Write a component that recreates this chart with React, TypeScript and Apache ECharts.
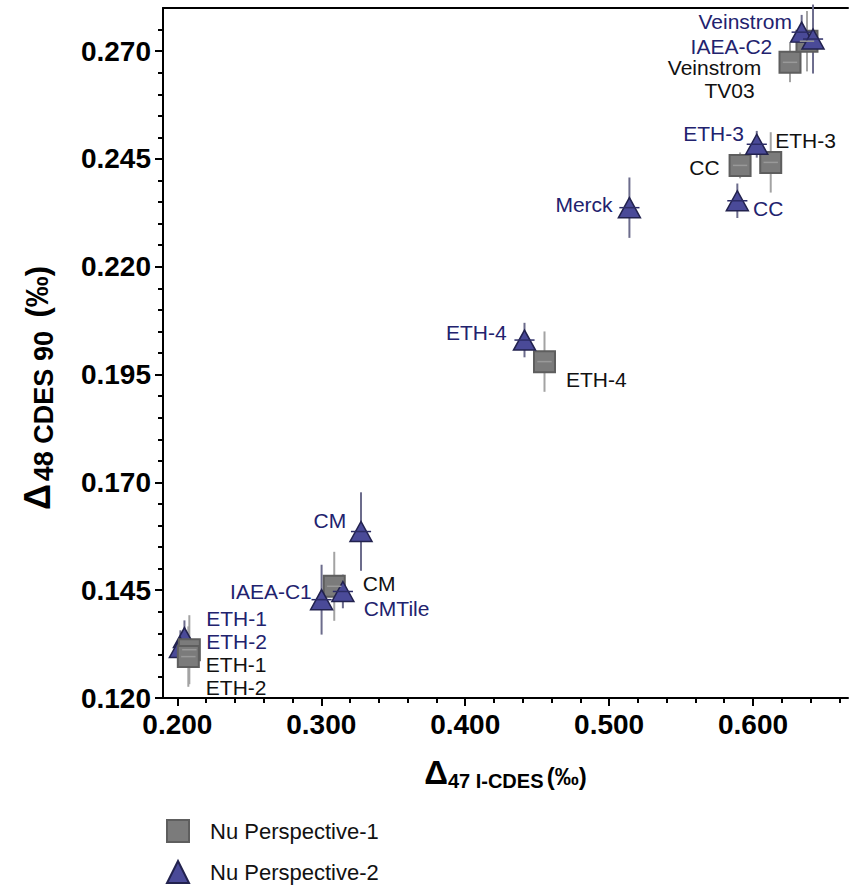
import React, { useEffect, useRef } from 'react';
import * as echarts from 'echarts';

// ---- Axis ticks ----
const xMajorTicks = [0.2, 0.3, 0.4, 0.5, 0.6];
const xMinorTicks = [0.22, 0.24, 0.26, 0.28, 0.32, 0.34, 0.36, 0.38, 0.42, 0.44, 0.46, 0.48, 0.52, 0.54, 0.56, 0.58, 0.62, 0.64, 0.66];
const yMajorTicks = [0.12, 0.145, 0.17, 0.195, 0.22, 0.245, 0.27];
const yMinorTicks = [0.125, 0.13, 0.135, 0.14, 0.15, 0.155, 0.16, 0.165, 0.175, 0.18, 0.185, 0.19, 0.2, 0.205, 0.21, 0.215, 0.225, 0.23, 0.235, 0.24, 0.25, 0.255, 0.26, 0.265, 0.275];

// ---- Nu Perspective-1 (squares) ----
const nu1Names = ['ETH-1', 'ETH-2', 'ETH-4', 'CM', 'CC', 'ETH-3', 'Veinstrom\nTV03', 'IAEA-C2'];
const nu1X = [0.2083, 0.2076, 0.4551, 0.309, 0.591, 0.6123, 0.6257, 0.6375];
const nu1Y = [0.1312, 0.1296, 0.198, 0.1459, 0.2435, 0.2442, 0.2674, 0.2723];
const nu1YErr = [0.008, 0.007, 0.007, 0.008, 0.003, 0.007, 0.0046, 0.007];
const nu1XErr = [0.005, 0.005, 0.005, 0.005, 0.005, 0.005, 0.005, 0.005];
const nu1ShowLabel = [true, true, true, true, true, true, true, false];

// ---- Nu Perspective-2 (triangles) ----
const nu2Names = ['ETH-1', 'ETH-2', 'ETH-4', 'IAEA-C1', 'CM', 'CMTile', 'Merck', 'CC', 'ETH-3', 'Veinstrom', 'IAEA-C2'];
const nu2X = [0.2049, 0.2021, 0.4412, 0.3002, 0.3276, 0.315, 0.5141, 0.5891, 0.6026, 0.6338, 0.6417];
const nu2Y = [0.134, 0.1317, 0.203, 0.1428, 0.1586, 0.1447, 0.2337, 0.2353, 0.2484, 0.2744, 0.2728];
const nu2YErr = [0.004, 0.004, 0.004, 0.0081, 0.0091, 0.0039, 0.007, 0.004, 0.0031, 0.004, 0.008];
const nu2XErr = [0.007, 0.007, 0.007, 0.007, 0.007, 0.007, 0.007, 0.007, 0.007, 0.007, 0.007];

// ---- label placement & layering (styling, kept apart from data) ----
type Place = { pos: 'left' | 'right'; dx: number; dy: number; align?: string; rich?: boolean };
const nu1Place: Place[] = [
  { pos: 'right', dx: 5, dy: 15 },
  { pos: 'right', dx: 6, dy: 31 },
  { pos: 'right', dx: 10, dy: 18 },
  { pos: 'right', dx: 17, dy: -3 },
  { pos: 'left', dx: -9, dy: 2 },
  { pos: 'right', dx: -7, dy: -22 },
  { pos: 'left', dx: -64, dy: 17, align: 'center', rich: true },
  { pos: 'left', dx: 0, dy: 0 },
];
const nu2Place: Place[] = [
  { pos: 'right', dx: 10, dy: -19 },
  { pos: 'right', dx: 14, dy: -6 },
  { pos: 'left', dx: -6, dy: -8 },
  { pos: 'left', dx: 2, dy: -8 },
  { pos: 'left', dx: -3, dy: -11 },
  { pos: 'right', dx: 9, dy: 17 },
  { pos: 'left', dx: -5, dy: -3 },
  { pos: 'right', dx: 4, dy: 8 },
  { pos: 'left', dx: -1, dy: -11 },
  { pos: 'left', dx: 2, dy: -11 },
  { pos: 'left', dx: -29, dy: 7 },
];
// triangles drawn behind the squares
const nu2Behind = [true, true, false, false, false, false, false, false, false, false, false];

const FONT = '"Liberation Sans", Arial, Helvetica, sans-serif';
const X_MIN = 0.19;
const X_MAX = 0.666;
const Y_MIN = 0.12;
const Y_MAX = 0.28;

const SQ_FILL = '#7b7b7b';
const SQ_BORDER = '#5e5e5e';
const TRI_FILL = '#4a4a98';
const TRI_BORDER = '#22224e';
const BLUE_TEXT = '#22226e';
const LABEL_SIZE = 21;

function vBar(color: string) {
  return (params: any, api: any) => {
    const x = api.value(0);
    const y = api.value(1);
    const e = api.value(2);
    const p1 = api.coord([x, y - e]);
    const p2 = api.coord([x, y + e]);
    return {
      type: 'line',
      shape: { x1: p1[0], y1: p1[1], x2: p2[0], y2: p2[1] },
      style: { stroke: color, lineWidth: 2 },
    };
  };
}
function hBar(color: string) {
  return (params: any, api: any) => {
    const x = api.value(0);
    const y = api.value(1);
    const e = api.value(2);
    const p1 = api.coord([x - e, y]);
    const p2 = api.coord([x + e, y]);
    return {
      type: 'line',
      shape: { x1: p1[0], y1: p1[1], x2: p2[0], y2: p2[1] },
      style: { stroke: color, lineWidth: 1.5 },
    };
  };
}

function pointData(names: string[], xs: number[], ys: number[], places: Place[], color: string, show?: boolean[], pick?: (i: number) => boolean) {
  const out: any[] = [];
  names.forEach((n, i) => {
    if (pick && !pick(i)) return;
    const pl = places[i];
    const parts = n.split('\n');
    out.push({
      name: n,
      value: [xs[i], ys[i]],
      label: {
        show: show ? show[i] : true,
        formatter: pl.rich ? parts[0] + '\n{t|' + parts[1] + '}' : n,
        position: pl.pos,
        distance: 0,
        offset: [pl.dx, pl.dy],
        align: pl.align,
        color,
        fontSize: LABEL_SIZE,
        lineHeight: pl.rich ? 23 : 20,
        fontFamily: FONT,
        rich: pl.rich
          ? { t: { fontSize: LABEL_SIZE, lineHeight: 23, color, fontFamily: FONT, padding: [0, 0, 0, 30] } }
          : undefined,
      },
    });
  });
  return out;
}

export default function App() {
  const ref = useRef<HTMLDivElement>(null);
  useEffect(() => {
    document.body.style.margin = '0';
    if (!ref.current) return;
    const chart = echarts.init(ref.current, undefined, { renderer: 'svg' });
    const axisLineStyle = { color: '#000', width: 2 };
    const tickStyle = { color: '#000', width: 2 };
    const triStyle = { color: TRI_FILL, borderColor: TRI_BORDER, borderWidth: 1.5, opacity: 1 };
    const option: any = {
      animation: false,
      backgroundColor: '#fff',
      textStyle: { fontFamily: FONT },
      grid: { left: 163, right: 2, top: 8, bottom: 188, containLabel: false },
      legend: {
        data: ['Nu Perspective-1', 'Nu Perspective-2'],
        orient: 'vertical',
        left: 166,
        top: 819,
        padding: 0,
        itemWidth: 22,
        itemHeight: 22,
        itemGap: 17,
        textStyle: { fontSize: 22, color: '#111', fontFamily: FONT, padding: [0, 0, 0, 16] },
      },
      xAxis: [
        {
          type: 'value',
          min: X_MIN,
          max: X_MAX,
          position: 'bottom',
          axisLine: { show: true, lineStyle: axisLineStyle },
          axisTick: { show: true, customValues: xMajorTicks, length: 8, lineStyle: tickStyle },
          axisLabel: {
            customValues: xMajorTicks,
            formatter: (v: number) => v.toFixed(3),
            fontSize: 28,
            fontWeight: 'bold',
            color: '#000',
            fontFamily: FONT,
            margin: 12,
          },
          splitLine: { show: false },
          name: '{d|Δ}{s|47 I-CDES} {p|(‰)}',
          nameLocation: 'middle',
          nameGap: 58,
          nameTextStyle: {
            rich: {
              d: { fontSize: 33, fontWeight: 'bold', color: '#000', fontFamily: FONT, verticalAlign: 'bottom', padding: [0, 0, 2, 0] },
              s: { fontSize: 20, fontWeight: 'bold', color: '#000', fontFamily: FONT, verticalAlign: 'bottom' },
              p: { fontSize: 24, fontWeight: 'bold', color: '#000', fontFamily: FONT, verticalAlign: 'bottom', padding: [0, 0, 3, 0] },
            },
          },
        },
        {
          type: 'value',
          min: X_MIN,
          max: X_MAX,
          position: 'bottom',
          axisLine: { show: false },
          axisTick: { show: true, customValues: xMinorTicks, length: 5, lineStyle: tickStyle },
          axisLabel: { show: false },
          splitLine: { show: false },
        },
        {
          type: 'value',
          min: X_MIN,
          max: X_MAX,
          position: 'top',
          axisLine: { show: true, lineStyle: axisLineStyle },
          axisTick: { show: false },
          axisLabel: { show: false },
          splitLine: { show: false },
        },
      ],
      yAxis: [
        {
          type: 'value',
          min: Y_MIN,
          max: Y_MAX,
          position: 'left',
          axisLine: { show: true, lineStyle: axisLineStyle },
          axisTick: { show: true, customValues: yMajorTicks, length: 8, lineStyle: tickStyle },
          axisLabel: {
            customValues: yMajorTicks,
            formatter: (v: number) => v.toFixed(3),
            fontSize: 28,
            fontWeight: 'bold',
            color: '#000',
            fontFamily: FONT,
            margin: 12,
          },
          splitLine: { show: false },
          name: '{d|Δ}{s|48 CDES 90}{g| }{p|(‰)}',
          nameLocation: 'middle',
          nameRotate: 90,
          nameGap: 106,
          nameTextStyle: {
            rich: {
              d: { fontSize: 36, fontWeight: 'bold', color: '#000', fontFamily: FONT, verticalAlign: 'bottom', padding: [0, 3, 2, 0] },
              s: { fontSize: 27, fontWeight: 'bold', color: '#000', fontFamily: FONT, verticalAlign: 'bottom' },
              g: { fontSize: 27, verticalAlign: 'bottom', padding: [0, 6, 0, 0] },
              p: { fontSize: 31, fontWeight: 'bold', color: '#000', fontFamily: FONT, verticalAlign: 'bottom', padding: [0, 70, 4, 0] },
            },
          },
        },
        {
          type: 'value',
          min: Y_MIN,
          max: Y_MAX,
          position: 'left',
          axisLine: { show: false },
          axisTick: { show: true, customValues: yMinorTicks, length: 5, lineStyle: tickStyle },
          axisLabel: { show: false },
          splitLine: { show: false },
        },
      ],
      series: [
        {
          type: 'custom',
          name: 'errY1',
          silent: true,
          z: 1,
          renderItem: vBar('#a3a3a3'),
          encode: { x: 0, y: 1 },
          data: nu1X.map((x, i) => [x, nu1Y[i], nu1YErr[i]]),
        },
        {
          type: 'custom',
          name: 'errY2',
          silent: true,
          z: 1,
          renderItem: vBar('#6c6c8c'),
          encode: { x: 0, y: 1 },
          data: nu2X.map((x, i) => [x, nu2Y[i], nu2YErr[i]]),
        },
        {
          type: 'scatter',
          name: 'Nu Perspective-2',
          z: 2,
          symbol: 'triangle',
          symbolSize: [22, 20],
          itemStyle: triStyle,
          data: pointData(nu2Names, nu2X, nu2Y, nu2Place, BLUE_TEXT, undefined, (i) => nu2Behind[i]),
        },
        {
          type: 'scatter',
          name: 'Nu Perspective-1',
          z: 3,
          symbol: 'rect',
          symbolSize: 21,
          itemStyle: { color: SQ_FILL, borderColor: SQ_BORDER, borderWidth: 2, opacity: 1 },
          data: pointData(nu1Names, nu1X, nu1Y, nu1Place, '#111', nu1ShowLabel),
        },
        {
          type: 'scatter',
          name: 'Nu Perspective-2',
          z: 4,
          symbol: 'triangle',
          symbolSize: [22, 20],
          itemStyle: triStyle,
          data: pointData(nu2Names, nu2X, nu2Y, nu2Place, BLUE_TEXT, undefined, (i) => !nu2Behind[i]),
        },
        {
          type: 'custom',
          name: 'errX1',
          silent: true,
          z: 5,
          renderItem: hBar('#999999'),
          encode: { x: 0, y: 1 },
          data: nu1X.map((x, i) => [x, nu1Y[i], nu1XErr[i]]),
        },
        {
          type: 'custom',
          name: 'errX2',
          silent: true,
          z: 6,
          renderItem: hBar('#2c2c66'),
          encode: { x: 0, y: 1 },
          data: nu2X
            .map((x, i) => [x, nu2Y[i], nu2XErr[i], i])
            .filter((d) => !nu2Behind[d[3]])
            .map((d) => [d[0], d[1], d[2]]),
        },
      ],
    };
    chart.setOption(option);
    return () => chart.dispose();
  }, []);
  return <div ref={ref} style={{ width: 850, height: 886 }} />;
}
